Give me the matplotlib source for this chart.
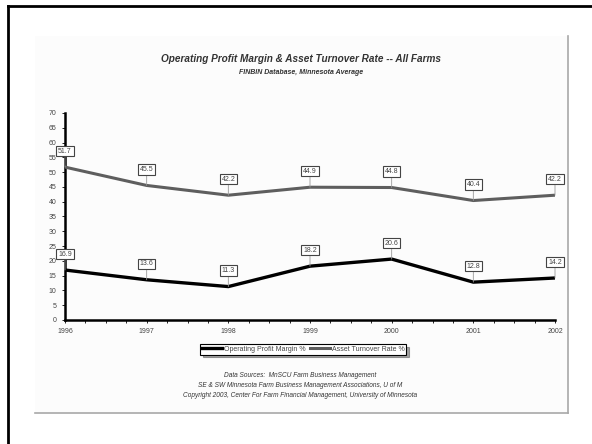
import matplotlib
matplotlib.use("Agg")
import matplotlib.pyplot as plt
from matplotlib.patches import Rectangle
from matplotlib.lines import Line2D

plt.rcParams['font.family'] = ['Liberation Sans', 'DejaVu Sans']

years = [1996, 1997, 1998, 1999, 2000, 2001, 2002]
profit_margin = [16.9, 13.6, 11.3, 18.2, 20.6, 12.8, 14.2]
asset_turnover = [51.7, 45.5, 42.2, 44.9, 44.8, 40.4, 42.2]
series_names = ["Operating Profit Margin %", "Asset Turnover Rate %"]
y_ticks = list(range(0, 75, 5))

fig = plt.figure(figsize=(5.92, 4.44), dpi=100)
fig.patch.set_facecolor('white')

# slide frame (left and top edges only)
fig.add_artist(Line2D([0.014, 0.014], [0, 0.986], color='black', lw=2))
fig.add_artist(Line2D([0.014, 1.0], [0.986, 0.986], color='black', lw=2))

# chart panel with a soft gray edge on the right and bottom
fig.add_artist(Rectangle((0.059, 0.07), 0.9, 0.85, facecolor='#fcfcfc',
                         edgecolor='none', zorder=0))
fig.add_artist(Line2D([0.959, 0.959], [0.07, 0.92], color='#a8a8a8', lw=1.2))
fig.add_artist(Line2D([0.059, 0.959], [0.07, 0.07], color='#a8a8a8', lw=1.2))

fig.text(0.508, 0.868, "Operating Profit Margin & Asset Turnover Rate -- All Farms",
         ha='center', va='center', fontsize=7.2, style='italic', weight='bold', color='#333333')
fig.text(0.508, 0.836, "FINBIN Database, Minnesota Average",
         ha='center', va='center', fontsize=5, style='italic', weight='bold', color='#333333')

ax = fig.add_axes([0.1098, 0.2793, 0.8277, 0.4662])
ax.set_facecolor('none')
ax.plot(years, asset_turnover, color='#5e5e5e', lw=2.2, label=series_names[1], zorder=3)
ax.plot(years, profit_margin, color='black', lw=2.4, label=series_names[0], zorder=3)

for series in (profit_margin, asset_turnover):
    for x, v in zip(years, series):
        ax.annotate(f"{v:.1f}", xy=(x, v), xytext=(0, 11.5), textcoords='offset points',
                    ha='center', va='center', fontsize=5, color='#444444',
                    bbox=dict(boxstyle='square,pad=0.25', fc='white', ec='#444444', lw=0.8),
                    arrowprops=dict(arrowstyle='-', color='#999999', lw=0.6,
                                    shrinkA=0, shrinkB=0), zorder=4)

ax.set_xlim(1996, 2002)
ax.set_ylim(0, 70)
ax.set_yticks(y_ticks)
ax.set_xticks(years)
ax.set_xticks([y + q / 4 for y in years[:-1] for q in (1, 2, 3)], minor=True)
ax.tick_params(axis='both', labelsize=5, labelcolor='#444444', length=2.5, width=0.6)
ax.tick_params(axis='x', which='minor', length=2, width=0.6)
for side in ('top', 'right'):
    ax.spines[side].set_visible(False)
ax.spines['left'].set_linewidth(1.8)
ax.spines['bottom'].set_linewidth(1.8)

handles, labels = ax.get_legend_handles_labels()
leg = fig.legend(handles[::-1], labels[::-1], loc='center', bbox_to_anchor=(0.512, 0.213),
                 ncol=2, fontsize=5, frameon=True, fancybox=False, shadow=True,
                 handlelength=3, columnspacing=0.6, handletextpad=0.2,
                 borderpad=0.25, labelcolor='#444444')
leg.get_frame().set_edgecolor('black')
leg.get_frame().set_linewidth(0.8)

notes = ["Data Sources:  MnSCU Farm Business Management",
         "SE & SW Minnesota Farm Business Management Associations, U of M",
         "Copyright 2003, Center For Farm Financial Management, University of Minnesota"]
for i, line in enumerate(notes):
    fig.text(0.507, 0.155 - i * 0.0225, line, ha='center', va='center',
             fontsize=4.7, style='italic', color='#333333')

fig.savefig("out.png", dpi=100)
